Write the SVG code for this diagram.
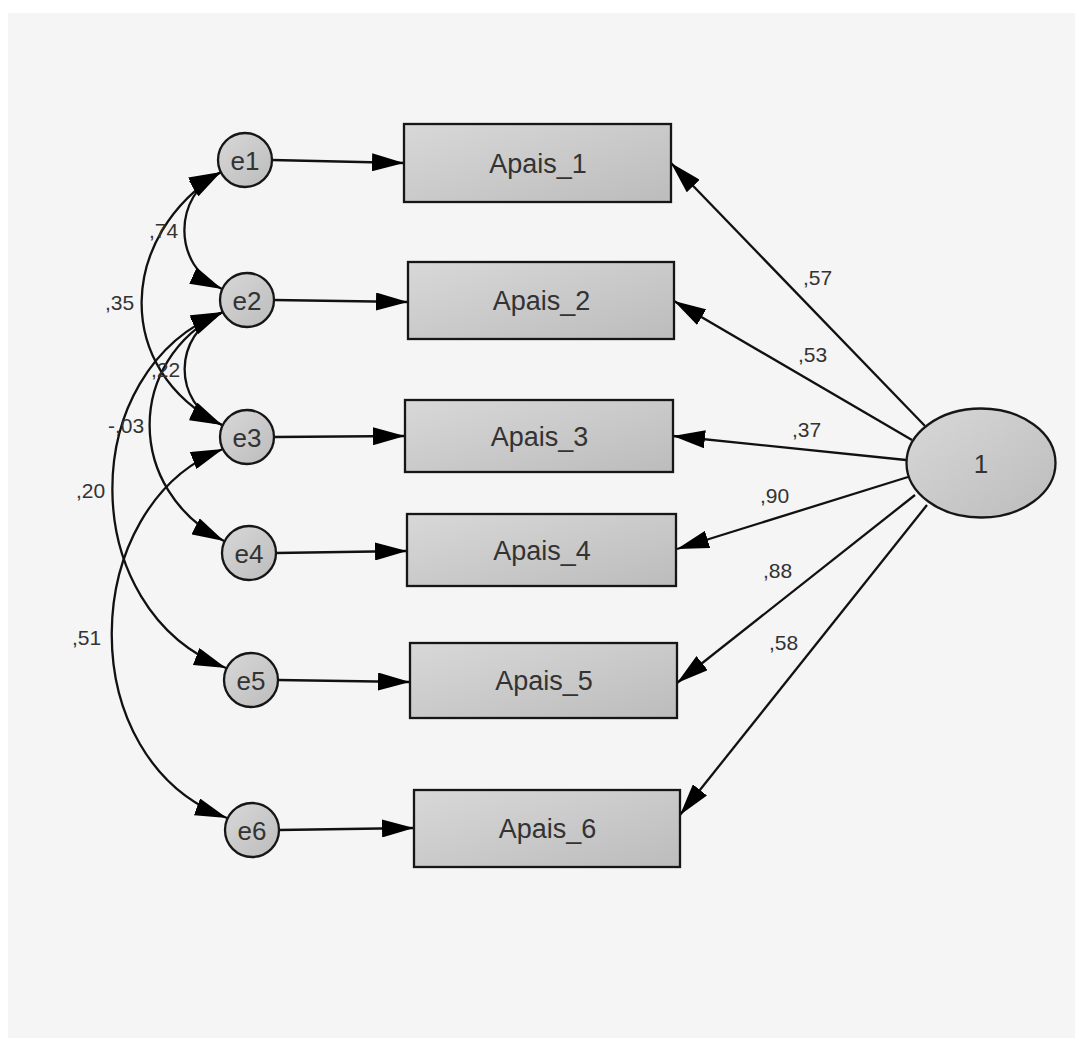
<svg xmlns="http://www.w3.org/2000/svg" width="1083" height="1046" viewBox="0 0 1083 1046">
  <style>
    .node { stroke: #161616; stroke-width: 2.3; fill: url(#shade); }
    .lbl { font-family: "Liberation Sans", Arial, sans-serif; fill: #333; }
    .big { font-size: 27px; text-anchor: middle; }
    .err { font-size: 26px; text-anchor: middle; }
    .num { font-size: 21px; }
    .edge { stroke: #111; stroke-width: 2.3; fill: none; marker-end: url(#arrow); }
    .cov { stroke: #111; stroke-width: 2.3; fill: none; marker-end: url(#arrow); marker-start: url(#arrow); }
  </style>
  <defs>
    <linearGradient id="shade" x1="0" y1="0" x2="1" y2="1">
      <stop offset="0" stop-color="#d8d8d8"/>
      <stop offset="1" stop-color="#bcbcbc"/>
    </linearGradient>
    <marker id="arrow" markerUnits="userSpaceOnUse" viewBox="0 0 32 18" refX="32" refY="9" markerWidth="32" markerHeight="18" orient="auto-start-reverse">
      <path d="M0,0 L32,9 L0,18 Z" fill="#000"/>
    </marker>
  </defs>

  <rect x="0" y="0" width="1083" height="1046" fill="#ffffff"/>
  <rect x="8" y="13" width="1067" height="1025" fill="#f5f5f5"/>

  <!-- connectors -->
  <g id="connectors">
    <!-- error terms to indicators -->
    <line class="edge" x1="272" y1="160" x2="404" y2="163"/>
    <line class="edge" x1="274" y1="300" x2="408" y2="302"/>
    <line class="edge" x1="274" y1="437" x2="405" y2="436"/>
    <line class="edge" x1="276" y1="553" x2="407" y2="551"/>
    <line class="edge" x1="278" y1="680" x2="410" y2="682"/>
    <line class="edge" x1="279" y1="830" x2="414" y2="828"/>

    <!-- factor loadings -->
    <line class="edge" x1="925" y1="426" x2="671" y2="163"/>
    <line class="edge" x1="912" y1="440" x2="674" y2="301"/>
    <line class="edge" x1="906" y1="460" x2="673" y2="436"/>
    <line class="edge" x1="908" y1="477" x2="677" y2="549"/>
    <line class="edge" x1="915" y1="495" x2="677" y2="683"/>
    <line class="edge" x1="927" y1="505" x2="680" y2="815"/>

    <!-- error covariances -->
    <path class="cov" d="M221,172 C172,195 172,266 222,289"/>
    <path class="cov" d="M221,172 C118,235 112,370 222,425"/>
    <path class="cov" d="M223,312 C172,335 172,403 222,425"/>
    <path class="cov" d="M223,312 C125,360 125,490 224,541"/>
    <path class="cov" d="M223,312 C75,370 75,610 226,668"/>
    <path class="cov" d="M223,449 C78,505 70,760 227,818"/>

    <!-- coefficient labels -->
    <text class="lbl num" x="149" y="238">,74</text>
    <text class="lbl num" x="105" y="310">,35</text>
    <text class="lbl num" x="151" y="377">,22</text>
    <text class="lbl num" x="108" y="433">-,03</text>
    <text class="lbl num" x="76" y="498">,20</text>
    <text class="lbl num" x="72" y="645">,51</text>
    <text class="lbl num" x="803" y="285">,57</text>
    <text class="lbl num" x="798" y="362">,53</text>
    <text class="lbl num" x="792" y="437">,37</text>
    <text class="lbl num" x="760" y="503">,90</text>
    <text class="lbl num" x="763" y="578">,88</text>
    <text class="lbl num" x="769" y="650">,58</text>
  </g>

  <!-- observed indicators -->
  <g id="Apais_1"><rect class="node" x="404" y="124" width="267" height="78"/><text class="lbl big" x="538" y="173">Apais_1</text></g>
  <g id="Apais_2"><rect class="node" x="408" y="262" width="266" height="77"/><text class="lbl big" x="541.5" y="310">Apais_2</text></g>
  <g id="Apais_3"><rect class="node" x="405" y="400" width="268" height="72"/><text class="lbl big" x="539.5" y="446">Apais_3</text></g>
  <g id="Apais_4"><rect class="node" x="407" y="514" width="269" height="72"/><text class="lbl big" x="542" y="560">Apais_4</text></g>
  <g id="Apais_5"><rect class="node" x="410" y="643" width="267" height="75"/><text class="lbl big" x="544" y="690">Apais_5</text></g>
  <g id="Apais_6"><rect class="node" x="414" y="790" width="266" height="77"/><text class="lbl big" x="547.5" y="838">Apais_6</text></g>

  <!-- error terms -->
  <g id="e1"><circle class="node" cx="245" cy="160" r="27"/><text class="lbl err" x="245" y="169.5">e1</text></g>
  <g id="e2"><circle class="node" cx="247" cy="300" r="27"/><text class="lbl err" x="247" y="309.5">e2</text></g>
  <g id="e3"><circle class="node" cx="247" cy="437" r="27"/><text class="lbl err" x="247" y="446.5">e3</text></g>
  <g id="e4"><circle class="node" cx="249" cy="553" r="27"/><text class="lbl err" x="249" y="562.5">e4</text></g>
  <g id="e5"><circle class="node" cx="251" cy="680" r="27"/><text class="lbl err" x="251" y="689.5">e5</text></g>
  <g id="e6"><circle class="node" cx="252" cy="830" r="27"/><text class="lbl err" x="252" y="839.5">e6</text></g>

  <!-- latent factor -->
  <g id="factor"><ellipse class="node" cx="981" cy="463" rx="74.5" ry="54.5"/><text class="lbl err" x="981" y="473">1</text></g>
</svg>
